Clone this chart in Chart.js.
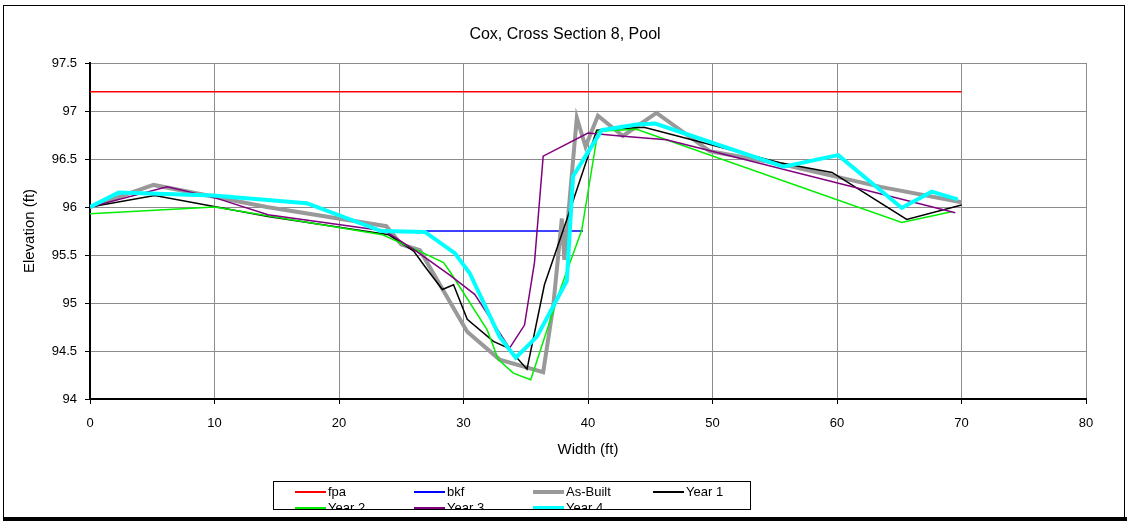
<!DOCTYPE html>
<html>
<head>
<meta charset="utf-8">
<script src="https://cdn.jsdelivr.net/npm/chart.js@4.4.1/dist/chart.umd.min.js"></script>
<style>
  body { margin: 0; background: #fff; font-family: 'Liberation Sans', Arial, sans-serif; }
  #wrap { position: relative; width: 1130px; height: 521px; overflow: hidden; }
  #frame { position: absolute; left: 3px; top: 5px; width: 1120px; height: 512px; border: 1px solid #000; border-bottom: none; }
  #bottomBar { position: absolute; left: 3px; top: 517px; width: 1124px; height: 4px; background: #000; }
  #title { position: absolute; left: 0; top: 24px; width: 1130px; text-align: center; font-size: 16px; line-height: 20px; color: #000; }
  #legend { position: absolute; left: 273px; top: 481px; width: 476px; height: 27px; border: 1px solid #000; background: #fff; overflow: hidden; }
  .item { position: absolute; height: 16px; font-size: 13px; line-height: 16px; color: #000; white-space: nowrap; }
  .swatch { position: absolute; top: 50%; width: 31px; }
  .label { position: absolute; left: 33px; top: 0; }
</style>
</head>
<body>
<div id="wrap">
  <canvas id="myChart" width="1130" height="521"></canvas>
  <div id="frame"></div>
  <div id="bottomBar"></div>
  <div id="title">Cox, Cross Section 8, Pool</div>
  <div id="legend"></div>
</div>
<script>
let seriesNames = ['fpa', 'bkf', 'As-Built', 'Year 1', 'Year 2', 'Year 3', 'Year 4'];

let fpaX = [0, 70];
let fpaY = [97.2, 97.2];

let bkfX = [23.3, 39.6];
let bkfY = [95.75, 95.75];

let asBuiltX = [0, 5.1, 14.2, 23.8, 25.0, 26.5, 30.3, 32.9, 36.4, 37.2, 37.9, 38.1, 39.1, 39.8, 40.8, 42.8, 45.5, 49.8, 55.4, 63.5, 70.0];
let asBuiltY = [96.0, 96.23, 96.0, 95.80, 95.61, 95.55, 94.70, 94.41, 94.28, 94.96, 95.88, 95.45, 96.93, 96.63, 96.95, 96.74, 96.98, 96.58, 96.45, 96.21, 96.05];

let year1X = [0, 5.2, 14.3, 24.0, 26.0, 26.9, 28.3, 29.2, 30.3, 32.4, 33.6, 35.1, 36.5, 38.3, 40.7, 44.5, 55.4, 59.6, 65.6, 70.0];
let year1Y = [96.0, 96.12, 95.90, 95.71, 95.54, 95.38, 95.14, 95.19, 94.83, 94.60, 94.53, 94.31, 95.19, 95.87, 96.80, 96.83, 96.46, 96.36, 95.87, 96.02];

let year2X = [0, 10.0, 23.5, 26.8, 28.4, 29.0, 31.9, 32.8, 34.0, 35.4, 37.8, 39.5, 40.8, 43.9, 65.2, 69.2];
let year2Y = [95.93, 96.0, 95.71, 95.52, 95.42, 95.31, 94.72, 94.41, 94.27, 94.20, 95.15, 95.76, 96.79, 96.81, 95.84, 95.95];

let year3X = [0, 6.2, 10.2, 14.3, 23.7, 26.2, 28.9, 30.9, 33.7, 34.9, 35.7, 36.4, 40.0, 42.6, 46.3, 69.5];
let year3Y = [96.0, 96.21, 96.09, 95.92, 95.75, 95.54, 95.29, 95.09, 94.53, 94.77, 95.42, 96.53, 96.77, 96.74, 96.70, 95.94];

let year4X = [0, 2.3, 9.9, 17.4, 23.4, 26.9, 29.3, 30.5, 32.9, 34.2, 35.9, 38.3, 38.8, 39.8, 41.1, 43.9, 45.4, 55.7, 60.1, 65.2, 67.6, 69.7];
let year4Y = [96.0, 96.15, 96.12, 96.04, 95.75, 95.74, 95.52, 95.31, 94.65, 94.43, 94.65, 95.23, 96.32, 96.53, 96.80, 96.86, 96.87, 96.42, 96.54, 95.99, 96.16, 96.08];

let xTicks = [0, 10, 20, 30, 40, 50, 60, 70, 80];
let yTicks = [94, 94.5, 95, 95.5, 96, 96.5, 97, 97.5];

let lineColors = ['#ff0000', '#0000ff', '#999999', '#000000', '#00ee00', '#800080', '#00ffff'];
let lineWidths = [1.5, 1.5, 4, 1.5, 1.5, 1.5, 4];

let fontFamily = "'Liberation Sans', Arial, sans-serif";

function toPoints(xs, ys) {
  let points = [];
  for (let i = 0; i < xs.length; i++) {
    points.push({ x: xs[i], y: ys[i] });
  }
  return points;
}

function buildDatasets() {
  let allX = [fpaX, bkfX, asBuiltX, year1X, year2X, year3X, year4X];
  let allY = [fpaY, bkfY, asBuiltY, year1Y, year2Y, year3Y, year4Y];
  let datasets = [];
  for (let i = 0; i < seriesNames.length; i++) {
    datasets.push({
      label: seriesNames[i],
      data: toPoints(allX[i], allY[i]),
      borderColor: lineColors[i],
      backgroundColor: lineColors[i],
      borderWidth: lineWidths[i],
      pointRadius: 0,
      showLine: true,
      tension: 0,
      order: seriesNames.length - i
    });
  }
  return datasets;
}

function buildLegend() {
  let legend = document.getElementById('legend');
  let colLeft = [21, 140, 259, 379];
  for (let i = 0; i < seriesNames.length; i++) {
    let row = Math.floor(i / 4);
    let col = i % 4;
    let item = document.createElement('div');
    item.className = 'item';
    item.style.left = colLeft[col] + 'px';
    item.style.top = (2 + row * 16) + 'px';
    let swatch = document.createElement('div');
    swatch.className = 'swatch';
    swatch.style.height = lineWidths[i] + 'px';
    swatch.style.marginTop = (-lineWidths[i] / 2) + 'px';
    swatch.style.background = lineColors[i];
    let label = document.createElement('div');
    label.className = 'label';
    label.textContent = seriesNames[i];
    item.appendChild(swatch);
    item.appendChild(label);
    legend.appendChild(item);
  }
}

function drawChart() {
  let canvas = document.getElementById('myChart');
  new Chart(canvas, {
    type: 'scatter',
    data: { datasets: buildDatasets() },
    options: {
      responsive: false,
      animation: false,
      devicePixelRatio: 1,
      layout: { padding: { left: 0, right: 44, top: 63, bottom: 0 } },
      plugins: {
        legend: { display: false },
        tooltip: { enabled: false }
      },
      scales: {
        x: {
          type: 'linear',
          min: 0,
          max: 80,
          afterFit: function (scale) { scale.height = 122; },
          afterBuildTicks: function (scale) { scale.ticks = xTicks.map(v => ({ value: v })); },
          ticks: { color: '#000', padding: 12, font: { family: fontFamily, size: 13 } },
          grid: { color: '#8c8c8c', lineWidth: 1, tickColor: '#000', tickLength: 5 },
          border: { color: '#000', width: 2 },
          title: {
            display: true,
            text: 'Width (ft)',
            color: '#000',
            font: { family: fontFamily, size: 15 },
            padding: { top: 0, bottom: 62 }
          }
        },
        y: {
          type: 'linear',
          min: 94,
          max: 97.5,
          afterFit: function (scale) { scale.width = 90; },
          afterBuildTicks: function (scale) { scale.ticks = yTicks.map(v => ({ value: v })); },
          ticks: {
            color: '#000',
            padding: 8,
            font: { family: fontFamily, size: 13 },
            callback: function (value) { return String(value); }
          },
          grid: { color: '#8c8c8c', lineWidth: 1, tickColor: '#000', tickLength: 5 },
          border: { color: '#000', width: 2 },
          title: {
            display: true,
            text: 'Elevation (ft)',
            color: '#000',
            font: { family: fontFamily, size: 15 },
            padding: { top: 21, bottom: 0 }
          }
        }
      }
    }
  });
}

buildLegend();
drawChart();
</script>
</body>
</html>
